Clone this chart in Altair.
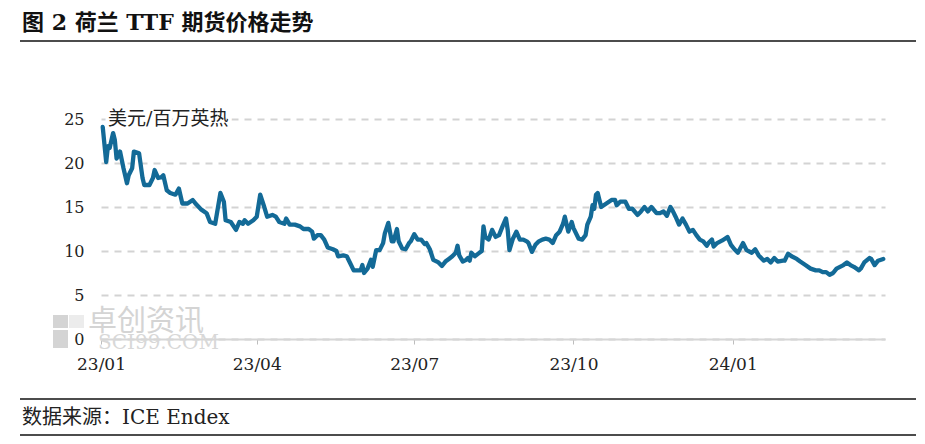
import altair as alt
import pandas as pd

# ---- data ----
dates = [
    "2023-01-02", "2023-01-04", "2023-01-05", "2023-01-06", "2023-01-08", "2023-01-09", "2023-01-10",
    "2023-01-12", "2023-01-14", "2023-01-16", "2023-01-17", "2023-01-19", "2023-01-20", "2023-01-23",
    "2023-01-25", "2023-01-26", "2023-01-29", "2023-01-31", "2023-02-01", "2023-02-03", "2023-02-05",
    "2023-02-06", "2023-02-08", "2023-02-10", "2023-02-13", "2023-02-15", "2023-02-17", "2023-02-20",
    "2023-02-23", "2023-02-25", "2023-02-28", "2023-03-03", "2023-03-05", "2023-03-08", "2023-03-11",
    "2023-03-13", "2023-03-14", "2023-03-17", "2023-03-20", "2023-03-22", "2023-03-24", "2023-03-25",
    "2023-03-27", "2023-03-30", "2023-04-01", "2023-04-03", "2023-04-05", "2023-04-07", "2023-04-10",
    "2023-04-12", "2023-04-14", "2023-04-17", "2023-04-18", "2023-04-20", "2023-04-23", "2023-04-26",
    "2023-04-28", "2023-05-01", "2023-05-03", "2023-05-04", "2023-05-06", "2023-05-08", "2023-05-10",
    "2023-05-12", "2023-05-15", "2023-05-17", "2023-05-18", "2023-05-21", "2023-05-23", "2023-05-25",
    "2023-05-27", "2023-05-29", "2023-05-31", "2023-06-01", "2023-06-02", "2023-06-04", "2023-06-06",
    "2023-06-07", "2023-06-09", "2023-06-11", "2023-06-13", "2023-06-14", "2023-06-16", "2023-06-18",
    "2023-06-19", "2023-06-21", "2023-06-22", "2023-06-24", "2023-06-26", "2023-06-28", "2023-06-29",
    "2023-07-01", "2023-07-03", "2023-07-05", "2023-07-07", "2023-07-08", "2023-07-10", "2023-07-12",
    "2023-07-15", "2023-07-17", "2023-07-19", "2023-07-21", "2023-07-23", "2023-07-25", "2023-07-26",
    "2023-07-27", "2023-07-29", "2023-07-31", "2023-08-01", "2023-08-02", "2023-08-03", "2023-08-05",
    "2023-08-07", "2023-08-09", "2023-08-10", "2023-08-11", "2023-08-13", "2023-08-15", "2023-08-17",
    "2023-08-19", "2023-08-21", "2023-08-23", "2023-08-24", "2023-08-25", "2023-08-27", "2023-08-29",
    "2023-08-31", "2023-09-02", "2023-09-04", "2023-09-05", "2023-09-07", "2023-09-09", "2023-09-11",
    "2023-09-13", "2023-09-15", "2023-09-17", "2023-09-19", "2023-09-21", "2023-09-23", "2023-09-25",
    "2023-09-26", "2023-09-28", "2023-09-30", "2023-10-01", "2023-10-04", "2023-10-06", "2023-10-08",
    "2023-10-09", "2023-10-11", "2023-10-12", "2023-10-13", "2023-10-14", "2023-10-15", "2023-10-17",
    "2023-10-20", "2023-10-23", "2023-10-25", "2023-10-26", "2023-10-28", "2023-10-31", "2023-11-02",
    "2023-11-04", "2023-11-07", "2023-11-09", "2023-11-11", "2023-11-13", "2023-11-15", "2023-11-18",
    "2023-11-20", "2023-11-22", "2023-11-24", "2023-11-26", "2023-11-27", "2023-11-29", "2023-12-01",
    "2023-12-03", "2023-12-05", "2023-12-07", "2023-12-09", "2023-12-11", "2023-12-13", "2023-12-15",
    "2023-12-17", "2023-12-18", "2023-12-20", "2023-12-21", "2023-12-23", "2023-12-26", "2023-12-29",
    "2023-12-31", "2024-01-02", "2024-01-04", "2024-01-07", "2024-01-09", "2024-01-12", "2024-01-14",
    "2024-01-16", "2024-01-19", "2024-01-21", "2024-01-23", "2024-01-25", "2024-01-27", "2024-01-30",
    "2024-01-31", "2024-02-02", "2024-02-04", "2024-02-07", "2024-02-09", "2024-02-12", "2024-02-15",
    "2024-02-18", "2024-02-20", "2024-02-22", "2024-02-24", "2024-02-26", "2024-02-28", "2024-03-01",
    "2024-03-03", "2024-03-05", "2024-03-07", "2024-03-09", "2024-03-11", "2024-03-14", "2024-03-15",
    "2024-03-17", "2024-03-20", "2024-03-21", "2024-03-23", "2024-03-25", "2024-03-28",
]

prices = [
    24.1, 20.1, 21.9, 21.7, 23.4, 22.6, 20.5,
    21.3, 19.4, 17.7, 18.6, 19.4, 21.3, 21.1,
    18.3, 17.5, 17.5, 18.3, 19.2, 18.3, 18.4,
    18.6, 16.9, 16.6, 16.4, 17.1, 15.4, 15.4,
    15.8, 15.3, 14.7, 14.3, 13.3, 13.1, 16.6,
    15.6, 13.5, 13.3, 12.4, 13.3, 13.1, 13.5,
    13.1, 13.5, 13.9, 16.4, 15.2, 13.9, 14.1,
    13.9, 13.3, 13.1, 13.7, 13.0, 13.0, 12.8,
    12.5, 12.5, 12.2, 11.4, 11.8, 11.8, 11.3,
    10.4, 10.2, 10.0, 9.4, 9.5, 9.4, 8.6,
    7.8, 7.8, 7.8, 8.4, 7.5, 8.0, 9.0,
    8.2, 10.1, 10.1, 10.9, 12.0, 13.2, 11.1,
    11.1, 12.5, 11.1, 10.3, 10.2, 10.9, 11.1,
    11.9, 11.3, 11.3, 10.8, 10.9, 10.2, 9.0,
    8.7, 8.3, 8.8, 9.1, 9.4, 9.8, 10.6,
    9.5, 8.8, 9.0, 9.2, 8.9, 9.8, 9.4,
    9.7, 10.0, 12.8, 11.6, 11.3, 12.4, 11.6,
    11.8, 12.8, 13.7, 12.4, 10.1, 11.4, 12.2,
    11.3, 11.3, 11.1, 10.9, 9.9, 10.7, 11.1,
    11.3, 11.4, 11.3, 10.9, 11.8, 12.2, 13.1,
    13.9, 12.2, 13.3, 12.6, 11.4, 11.3, 11.8,
    13.0, 13.9, 15.2, 14.8, 16.4, 16.6, 15.0,
    15.4, 15.8, 15.8, 15.2, 15.6, 15.6, 14.8,
    14.8, 14.1, 14.5, 15.0, 14.5, 15.0, 14.3,
    14.3, 14.5, 14.0, 15.0, 14.7, 13.9, 13.0,
    13.7, 13.0, 12.2, 12.4, 11.8, 11.3, 11.1,
    10.6, 10.9, 11.3, 10.5, 10.9, 11.2, 11.6,
    10.7, 10.2, 9.8, 10.9, 10.1, 9.8, 10.2,
    9.5, 8.9, 9.1, 8.7, 9.2, 8.8, 8.9,
    8.9, 9.7, 9.4, 9.1, 8.8, 8.4, 8.0,
    7.8, 7.8, 7.6, 7.6, 7.3, 7.5, 8.0,
    8.2, 8.4, 8.7, 8.4, 8.2, 7.8, 8.0,
    8.7, 9.2, 9.1, 8.4, 8.9, 9.1,
]

y_ticks = [0, 5, 10, 15, 20, 25]
x_ticks = [(2023, 1), (2023, 4), (2023, 7), (2023, 10), (2024, 1)]

title_text = "图 2 荷兰 TTF 期货价格走势"
unit_text = "美元/百万英热"
source_text = "数据来源：ICE Endex"
wm_cn = "卓创资讯"
wm_en = "SCI99.COM"

LATIN = "DejaVu Serif"
CJK = "DejaVu Serif, Noto Sans CJK SC"

df = pd.DataFrame({"date": pd.to_datetime(dates), "price": prices})
one = pd.DataFrame({"k": [0]})

line = alt.Chart(df).mark_line(
    color="#136a97", strokeWidth=4.3, strokeJoin="round", strokeCap="round"
).encode(
    x=alt.X(
        "date:T",
        scale=alt.Scale(domain=[alt.DateTime(year=2023, month=1, date=1),
                                alt.DateTime(year=2024, month=3, date=29)]),
        axis=alt.Axis(
            title=None, format="%y/%m",
            values=[alt.DateTime(year=y, month=m, date=1) for y, m in x_ticks],
            labelFlush=False, labelFont=LATIN, labelFontSize=17, labelColor="#222222",
            domainColor="#d6d6d6", domainWidth=2, tickColor="#bdbdbd", tickSize=5,
            tickWidth=1, labelPadding=12, grid=False, labelAngle=0,
        ),
    ),
    y=alt.Y(
        "price:Q",
        scale=alt.Scale(domain=[0, 25], nice=False),
        axis=alt.Axis(
            title=None, values=y_ticks, labelFont=LATIN, labelFontSize=16,
            labelColor="#222222", ticks=False, domain=False, labelPadding=17,
            grid=True, gridColor="#d3d3d3", gridWidth=2, gridDash=[7, 6],
        ),
    ),
)

def rule(x1, x2, y):
    return alt.Chart(one).mark_rule(color="#111111", strokeWidth=1.5).encode(
        x=alt.value(x1), x2=alt.value(x2), y=alt.value(y)
    )

def text(t, x, y, size, font=CJK, color="#111111", weight="normal"):
    return alt.Chart(one).mark_text(
        align="left", baseline="middle", font=font, fontSize=size,
        color=color, fontWeight=weight,
    ).encode(x=alt.value(x), y=alt.value(y), text=alt.value(t))

def block(x1, x2, y1, y2, color):
    return alt.Chart(one).mark_rect(color=color).encode(
        x=alt.value(x1), x2=alt.value(x2), y=alt.value(y1), y2=alt.value(y2)
    )

unit_bg = alt.Chart(one).mark_text(
    align="left", baseline="middle", font=CJK, fontSize=19,
    color="white", stroke="white", strokeWidth=7,
).encode(x=alt.value(7), y=alt.value(0), text=alt.value(unit_text))

chart = alt.layer(
    block(-48, -33, 196, 209, "#d4d4d4"),
    block(-48, -33, 211, 229, "#d4d4d4"),
    block(-32, -17, 196, 209, "#ececec"),
    text(wm_cn, -13, 203, 29, font="Noto Sans CJK SC", color="#d4d4d4"),
    text(wm_en, -3, 224, 20, font=LATIN, color="#d8d8d8"),
    line,
    rule(-81, 815, -113),
    rule(-81, 815, -78),
    rule(-81, 815, 280),
    rule(-81, 815, 316),
    text(title_text, -79, -96, 22, weight="bold"),
    unit_bg,
    text(unit_text, 7, 0, 19, color="#222222"),
    text(source_text, -79, 299, 20, color="#222222"),
).properties(
    width=784, height=220,
    padding={"left": 93, "top": 111, "right": 32, "bottom": 97},
    autosize=alt.AutoSizeParams(type="none"),
).configure_view(stroke=None)

chart.save("out.html", embed_options={"renderer": "svg", "actions": False})
